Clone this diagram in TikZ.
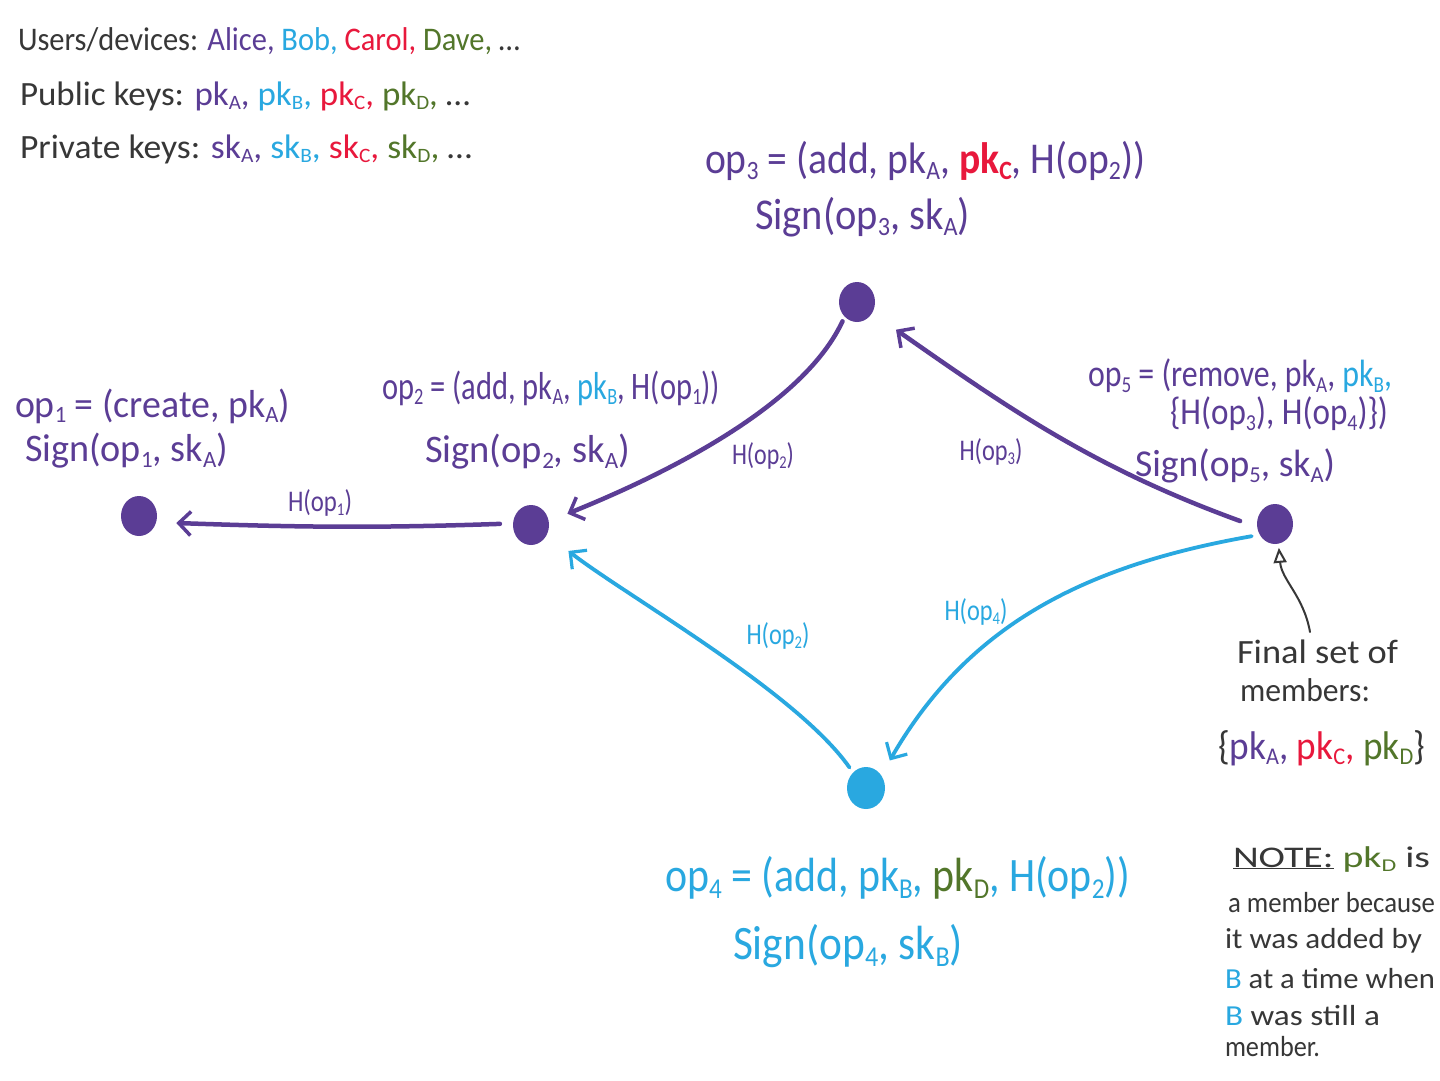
\documentclass[tikz,border=0pt]{standalone}
\usepackage{fontspec}
\setmainfont{Carlito}
\usetikzlibrary{arrows.meta,shapes.geometric}
\definecolor{pur}{RGB}{91,61,149}
\definecolor{blu}{RGB}{41,168,224}
\definecolor{crd}{RGB}{232,24,60}
\definecolor{grn}{RGB}{82,118,42}
\definecolor{ink}{RGB}{55,55,55}
\newcommand{\lo}[1]{\raisebox{-0.3ex}{\scalebox{0.6}{#1}}}
\newcommand{\fw}[2]{\resizebox{#1}{\height}{#2}}
\newcommand{\fs}[1]{\fontsize{#1}{#1}\selectfont}
\newcommand{\cP}[1]{\textcolor{pur}{#1}}
\newcommand{\cB}[1]{\textcolor{blu}{#1}}
\newcommand{\cR}[1]{\textcolor{crd}{#1}}
\newcommand{\cG}[1]{\textcolor{grn}{#1}}
\begin{document}
\begin{tikzpicture}[x=1pt,y=-1pt,
  txt/.style={anchor=west, inner sep=0pt, outer sep=0pt},
  dot/.style={ellipse, inner sep=0pt, minimum width=36pt, minimum height=40pt},
  pedge/.style={draw=pur, line width=4.5pt, line cap=round,
    -{Straight Barb[length=12pt,width=24pt,line width=3.5pt]}},
  bedge/.style={draw=blu, line width=3.8pt, line cap=round,
    -{Straight Barb[length=12pt,width=24pt,line width=3.2pt]}},
  annarrow/.style={draw=ink, line width=2pt, line cap=round,
    -{Triangle[open,length=15pt,width=13pt,line width=2pt]}},
  lab/.style={inner sep=0pt, font=\fs{30}},
]
\useasboundingbox[fill=white] (0,0) rectangle (1440,1080);

% header
\node[txt, text=ink, font=\fs{33}] (hdr1) at (18,41)
  {\fw{502pt}{Users/devices: \cP{Alice,} \cB{Bob,} \cR{Carol,} \cG{Dave,} \ldots}};
\node[txt, text=ink, font=\fs{34}] (hdr2) at (20,96)
  {\fw{450pt}{Public keys: \cP{pk\lo{A},} \cB{pk\lo{B},} \cR{pk\lo{C},} \cG{pk\lo{D},} \ldots}};
\node[txt, text=ink, font=\fs{34}] (hdr3) at (20,149)
  {\fw{452pt}{Private keys: \cP{sk\lo{A},} \cB{sk\lo{B},} \cR{sk\lo{C},} \cG{sk\lo{D},} \ldots}};

% dots
\node[dot, fill=pur] (op1) at (139,516) {};
\node[dot, fill=pur] (op2) at (531,525) {};
\node[dot, fill=pur] (op3) at (857,302) {};
\node[dot, fill=blu, minimum width=38pt, minimum height=42pt] (op4) at (866,788) {};
\node[dot, fill=pur] (op5) at (1275,524) {};

% op labels
\node[txt, text=pur, font=\fs{44}] (op3a) at (705,161)
  {\fw{440pt}{op\lo{3} = (add, pk\lo{A}, \cR{\textbf{pk\lo{C}}}, H(op\lo{2}))}};
\node[txt, text=pur, font=\fs{44}] (op3b) at (755,217)
  {\fw{215pt}{Sign(op\lo{3}, sk\lo{A})}};

\node[txt, text=pur, font=\fs{39}] (op1a) at (15,406)
  {\fw{275pt}{op\lo{1} = (create, pk\lo{A})}};
\node[txt, text=pur, font=\fs{39}] (op1b) at (25,451)
  {\fw{203pt}{Sign(op\lo{1}, sk\lo{A})}};

\node[txt, text=pur, font=\fs{39}] (op2a) at (382,388)
  {\fw{338pt}{op\lo{2} = (add, pk\lo{A}, \cB{pk\lo{B}}, H(op\lo{1}))}};
\node[txt, text=pur, font=\fs{39}] (op2b) at (425,452)
  {\fw{205pt}{Sign(op\lo{2}, sk\lo{A})}};

\node[txt, text=pur, font=\fs{38}] (op5a) at (1088,376)
  {\fw{304pt}{op\lo{5} = (remove, pk\lo{A}, \cB{pk\lo{B},}}};
\node[txt, text=pur, font=\fs{38}] (op5b) at (1170,414)
  {\fw{218pt}{\{H(op\lo{3}), H(op\lo{4})\})}};
\node[txt, text=pur, font=\fs{38}] (op5c) at (1135,466)
  {\fw{200pt}{Sign(op\lo{5}, sk\lo{A})}};

\node[txt, text=blu, font=\fs{48}] (op4a) at (665,878)
  {\fw{465pt}{op\lo{4} = (add, pk\lo{B}, \cG{pk\lo{D}}, H(op\lo{2}))}};
\node[txt, text=blu, font=\fs{48}] (op4b) at (733,946)
  {\fw{230pt}{Sign(op\lo{4}, sk\lo{B})}};

% final set
\node[txt, text=ink, font=\fs{34}] (fin1) at (1237,652) {\fw{161pt}{Final set of}};
\node[txt, text=ink, font=\fs{33}] (fin2) at (1240,690) {\fw{130pt}{members:}};
\node[txt, text=ink, font=\fs{40}] (fin3) at (1218,748)
  {\fw{207pt}{\{\cP{pk\lo{A},} \cR{pk\lo{C},} \cG{pk\lo{D}}\}}};

% note
\node[txt, text=ink, font=\fs{30}] (n1) at (1233,859) {\fw{197pt}{\underline{NOTE:} \cG{pk\lo{D}} is}};
\node[txt, text=ink, font=\fs{29}] (n2) at (1228,903) {\fw{207pt}{a member because}};
\node[txt, text=ink, font=\fs{29}] (n3) at (1225,941) {\fw{197pt}{it was added by}};
\node[txt, text=ink, font=\fs{29}] (n4) at (1225,979) {\fw{210pt}{\cB{B} at a time when}};
\node[txt, text=ink, font=\fs{29}] (n5) at (1225,1016) {\fw{155pt}{\cB{B} was still a}};
\node[txt, text=ink, font=\fs{29}] (n6) at (1225,1047) {\fw{95pt}{member.}};

% connectors
\draw[pedge, shorten <=13pt, shorten >=20pt] (op2.175) to[out=182,in=-2] (op1.-20);
\draw[pedge, shorten <=5pt, shorten >=20pt] (op3.230) to[out=245,in=22,looseness=0.75] (op2.12);
\draw[pedge, shorten <=18pt, shorten >=29pt] (op5.190) to[out=160,in=-35] (op3.-36);
\draw[bedge, shorten <=6pt, shorten >=27pt] (op4.130) to[out=125,in=-38,looseness=0.65] (op2.-30);
\draw[bedge, shorten <=8pt, shorten >=17pt] (op5.215) to[out=190,in=60] (op4.40);

\coordinate (annstart) at (1310,632);
\draw[annarrow, shorten >=4pt] (annstart) to[out=100,in=-85] (op5.-80);

% edge labels
\node[lab, text=pur] (l1) at (320,503) {\fw{64pt}{H(op\lo{1})}};
\node[lab, text=pur] (l2) at (763,456) {\fw{62pt}{H(op\lo{2})}};
\node[lab, text=pur] (l3) at (991,452) {\fw{63pt}{H(op\lo{3})}};
\node[lab, text=blu] (l4) at (778,636) {\fw{63pt}{H(op\lo{2})}};
\node[lab, text=blu] (l5) at (976,612) {\fw{63pt}{H(op\lo{4})}};
\end{tikzpicture}
\end{document}
